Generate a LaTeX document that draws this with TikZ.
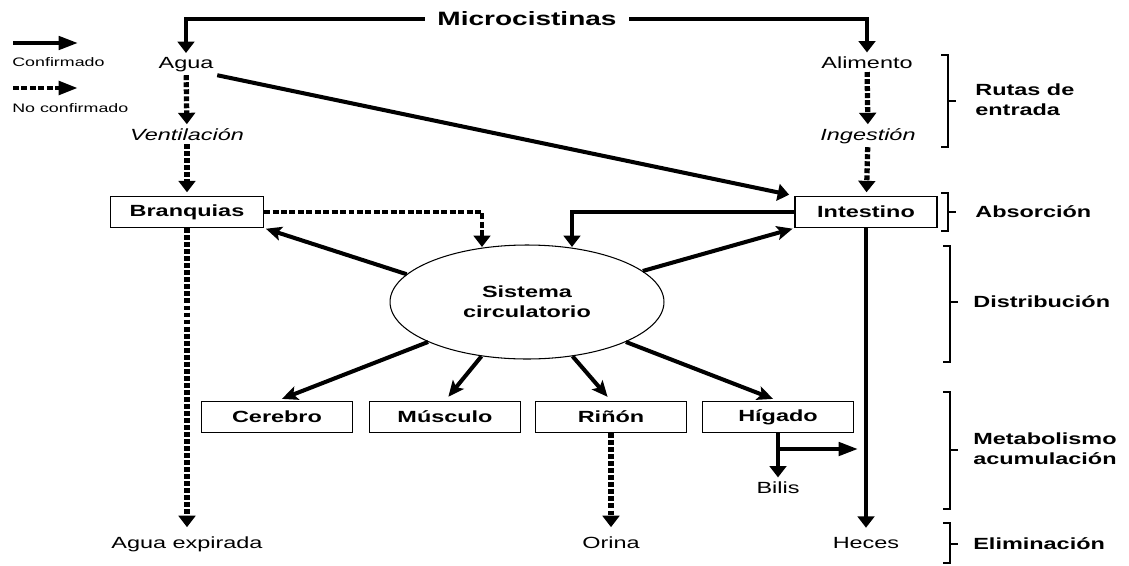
\documentclass[tikz,border=0pt]{standalone}
\usepackage{fontspec}
\setmainfont{Liberation Sans}[FakeStretch=1.45]
\usetikzlibrary{arrows.meta,shapes.geometric}

\begin{document}
\begin{tikzpicture}[x=0.02cm,y=-0.02cm,
    txt/.style={font=\fontsize{9.2}{11}\selectfont, inner sep=2pt},
    txti/.style={font=\fontsize{9.2}{11}\selectfont\itshape, inner sep=2pt},
    caja/.style={draw, line width=0.8pt, minimum width=3.02cm, minimum height=0.62cm, inner sep=0pt, font=\fontsize{9.2}{11}\selectfont\bfseries},
    etapa/.style={font=\fontsize{9.2}{11.5}\selectfont\bfseries, align=left, anchor=west, inner sep=0pt},
    conf/.style={line width=2.3pt, -{Triangle[length=6.5pt,width=9.5pt]}},
    confd/.style={line width=2.3pt, -{Stealth[length=9pt,width=8pt,inset=2pt]}},
    confh/.style={line width=2.3pt, -{Triangle[length=11pt,width=7.5pt]}},
    noconf/.style={line width=3pt, dash pattern=on 2.8pt off 1.2pt, -{Triangle[length=6.5pt,width=9.5pt]}},
    noconfh/.style={line width=2.6pt, dash pattern=on 3.4pt off 1.4pt, -{Triangle[length=11pt,width=7.5pt]}},
    llave/.style={line width=1.1pt},
  ]
    \useasboundingbox (0,0) rectangle (1129,565);

    % leyenda
    \coordinate (l1a) at (13,43);
    \coordinate (l1b) at (78,43);
    \coordinate (l2a) at (13,88);
    \coordinate (l2b) at (78,88);
    \draw[confh] (l1a) -- (l1b);
    \draw[noconfh] (l2a) -- (l2b);
    \node[font=\fontsize{7}{8}\selectfont, anchor=west, inner sep=0pt] (lconf) at (12,62) {Confirmado};
    \node[font=\fontsize{7}{8}\selectfont, anchor=west, inner sep=0pt] (lnoconf) at (12,108) {No confirmado};

    % rutas de entrada
    \node[font=\fontsize{11}{13}\selectfont\bfseries, inner xsep=7pt] (micro) at (527,19) {Microcistinas};
    \node[txt, anchor=base] (agua) at (186,68) {Agua};
    \node[txt, anchor=base] (alim) at (867,68) {Alimento};
    \node[txti, anchor=base] (vent) at (187,140) {Ventilación};
    \node[txti, anchor=base] (inges) at (868,140) {Ingestión};

    \node[caja, minimum width=3.06cm] (bran) at (187,212) {Branquias};
    \node[caja, minimum width=2.84cm] (inte) at (866,212) {Intestino};

    \node[ellipse, draw, line width=0.6pt, minimum width=5.48cm, minimum height=2.28cm,
          align=center, font=\fontsize{9.2}{11.5}\selectfont\bfseries] (circ) at (527,302) {Sistema\\circulatorio};

    \node[caja] (cere) at (277,417) {Cerebro};
    \node[caja] (musc) at (445,417) {Músculo};
    \node[caja] (rin) at (611,417) {Riñón};
    \node[caja] (hig) at (778,417) {Hígado};

    \node[txt, anchor=base] (bilis) at (778,493) {Bilis};
    \node[txt, anchor=base] (agex) at (187,548) {Agua expirada};
    \node[txt, anchor=base] (orina) at (611,548) {Orina};
    \node[txt, anchor=base] (heces) at (866,548) {Heces};

    \draw[conf] (micro.west) -| (agua.north);
    \draw[conf] (micro.east) -| (alim.north);
    \draw[noconf] (agua) -- (vent);
    \draw[noconf, shorten >=2pt] (vent) -- (bran);
    \draw[noconf] (alim) -- (inges);
    \draw[noconf, shorten >=2pt] (inges) -- (inte);
    \draw[conf, shorten >=3pt] (agua.south east) -- (inte.north west);

    % absorcion y distribucion
    \coordinate (c1) at (482,247);
    \coordinate (c2) at (572,247);
    \draw[noconf, line width=2.6pt, dash pattern=on 3.4pt off 1.4pt] (bran.east) -| (c1);
    \draw[conf] (inte.west) -| (c2);
    \draw[confd, shorten >=1pt] (circ.167) -- (bran.south east);
    \draw[confd, shorten >=1pt] (circ.15) -- (inte.south west);
    \draw[confd, shorten >=3pt] (circ.202) -- (cere.north);
    \draw[confd, shorten >=3pt] (circ.230) -- (musc.north);
    \draw[confd, shorten >=3pt] (circ.310) -- (rin.north);
    \draw[confd, shorten >=3pt] (circ.338) -- (hig.north);

    % eliminacion
    \draw[noconf, shorten >=3pt] (bran.south) -- (agex.north);
    \draw[noconf, shorten >=3pt] (rin.south) -- (orina.north);
    \draw[conf, shorten >=3pt] (inte.south) -- (heces.north);
    \draw[conf] (hig.south) -- (bilis.north);
    \coordinate (r1) at (778,449);
    \coordinate (r2) at (858,449);
    \draw[confh] (r1) -- (r2);

    % llaves
    \draw[llave] (941,55) -- (948,55) -- (948,147) -- (941,147) (948,101) -- (956,101);
    \draw[llave] (941,193) -- (948,193) -- (948,231) -- (941,231) (948,212) -- (956,212);
    \draw[llave] (943,246) -- (950,246) -- (950,362) -- (943,362) (950,302) -- (958,302);
    \draw[llave] (943,392) -- (950,392) -- (950,509) -- (943,509) (950,450) -- (958,450);
    \draw[llave] (943,523) -- (950,523) -- (950,563) -- (943,563) (950,544) -- (958,544);
    \node[etapa] (lrutas) at (975,100) {Rutas de\\entrada};
    \node[etapa] (labs) at (975,212) {Absorción};
    \node[etapa] (ldist) at (973,302) {Distribución};
    \node[etapa] (lmet) at (973,449) {Metabolismo\\acumulación};
    \node[etapa] (lelim) at (973,544) {Eliminación};
\end{tikzpicture}
\end{document}
